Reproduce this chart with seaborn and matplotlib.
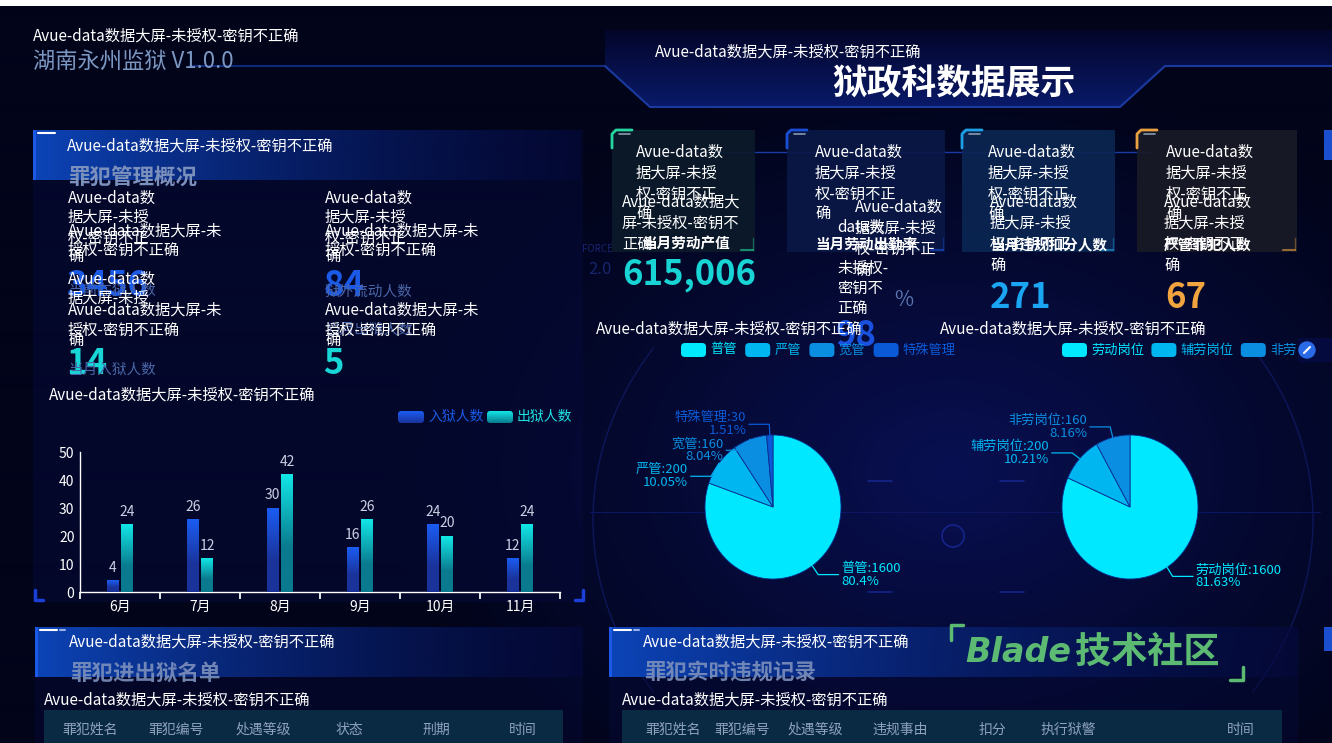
import numpy as np
import pandas as pd
import matplotlib
matplotlib.use("Agg")
import matplotlib.pyplot as plt
from matplotlib.patches import Rectangle, Polygon, FancyBboxPatch, Circle, Arc
from matplotlib.colors import to_rgb
import seaborn as sns

sns.set_theme(style="dark")
plt.rcParams['font.family'] = ['Noto Sans CJK SC', 'DejaVu Sans']
plt.rcParams['axes.unicode_minus'] = False
plt.rcParams['patch.force_edgecolor'] = False

W, H = 1332, 743

# ---- data ----
months = ["6月", "7月", "8月", "9月", "10月", "11月"]
in_prison = [4, 26, 30, 16, 24, 12]
out_prison = [24, 12, 42, 26, 20, 24]
bar_series = ["入狱人数", "出狱人数"]

manage_names = ["普管", "严管", "宽管", "特殊管理"]
manage_values = [1600, 200, 160, 30]
manage_pcts = ["80.4%", "10.05%", "8.04%", "1.51%"]

job_names = ["劳动岗位", "辅劳岗位", "非劳岗位"]
job_values = [1600, 200, 160]
job_pcts = ["81.63%", "10.21%", "8.16%"]

overview_values = ["3456", "84", "14", "5"]
overview_labels = ["当前在狱人数", "狱外流动人数", "当月入狱人数", "当月出狱人数"]

card_labels = ["当月劳动产值", "当月劳动出勤率", "当月违规扣分人数", "严管罪犯人数"]
card_values = ["615,006", "98", "271", "67"]

list_columns = ["罪犯姓名", "罪犯编号", "处遇等级", "状态", "刑期", "时间"]
record_columns = ["罪犯姓名", "罪犯编号", "处遇等级", "违规事由", "扣分", "执行狱警", "时间"]

WM = "Avue-data数据大屏-未授权-密钥不正确"

# ---- colours ----
BLUE_BAR = ("#1a5cf2", "#1a339a")
TEAL_BAR = ("#12e6e6", "#0a7a8e")
manage_colors = ["#00e8ff", "#00b6f0", "#0a8ee2", "#0a5ad8"]
job_colors = ["#00e8ff", "#00b6f0", "#0a8ee2"]


def rect_px(x0, y0, x1, y1):
    return [x0 / W, 1 - y1 / H, (x1 - x0) / W, (y1 - y0) / H]


def box(x, y, w, h, fc, alpha=1.0, z=2):
    bg.add_patch(Rectangle((x, y), w, h, fc=fc, ec='none', lw=0, alpha=alpha, zorder=z))


def grad(ax, x0, y0, x1, y1, c0, c1, a0=1.0, a1=1.0, vertical=False, zorder=1, clip=None):
    n = 128
    t = np.linspace(0, 1, n)
    c0 = np.array(to_rgb(c0)); c1 = np.array(to_rgb(c1))
    rgba = np.zeros((n, 4))
    rgba[:, :3] = c0 * (1 - t)[:, None] + c1 * t[:, None]
    rgba[:, 3] = a0 * (1 - t) + a1 * t
    img = rgba[:, None, :] if vertical else rgba[None, :, :]
    im = ax.imshow(img, extent=(x0, x1, y1, y0), aspect='auto', zorder=zorder,
                   interpolation='bilinear')
    if clip is not None:
        im.set_clip_path(clip)
    return im


fig = plt.figure(figsize=(W / 100, H / 100), dpi=100)
fig.patch.set_facecolor('#02041a')
bg = fig.add_axes([0, 0, 1, 1])
bg.axis('off')

# background glow
yy, xx = np.mgrid[0:H:4, 0:W:4]
d = np.sqrt(((xx - 950) / 560) ** 2 + ((yy - 470) / 400) ** 2)
glow = np.clip(1 - d, 0, 1) ** 1.1
base = np.array(to_rgb('#02041a')); hi = np.array(to_rgb('#081052'))
bg.imshow(base + (hi - base) * glow[..., None], extent=(0, W, H, 0), aspect='auto',
          zorder=0, interpolation='bilinear')
box(0, 0, W, 6, 'white', z=5)

# faint gauge decorations
bg.add_patch(Arc((953, 520), 720, 620, theta1=150, theta2=210, color='#101a66', lw=1, alpha=0.8, zorder=1))
bg.add_patch(Arc((953, 520), 720, 620, theta1=-30, theta2=30, color='#101a66', lw=1, alpha=0.8, zorder=1))
bg.add_patch(Circle((953, 536), 11, fill=False, ec='#16248a', lw=1.2, zorder=1))
for xs in [(868, 892), (1000, 1024)]:
    bg.plot(xs, [481, 481], color='#16248a', lw=1.2, zorder=1)
    bg.plot(xs, [592, 592], color='#16248a', lw=1.2, zorder=1)
bg.plot([590, 1320], [512, 512], color='#0c1660', lw=0.8, zorder=1)
bg.text(582, 252, "FORCE", color='#18246e', fontsize=7, zorder=1)
bg.text(588, 270, "2.0", color='#18246e', fontsize=12, va='center', zorder=1)

# header band
bg.plot([190, 605], [66, 66], color='#0e2a78', lw=1.5, zorder=2)
hdr = Polygon([(605, 66), (650, 107), (1120, 107), (1165, 66), (W, 66), (W, 30), (605, 30)],
              closed=True, fc='none', ec='none')
bg.add_patch(hdr)
grad(bg, 605, 30, W, 108, '#03062a', '#0a1a6a', vertical=True, zorder=2, clip=hdr)
bg.plot([605, 650, 1120, 1165, W], [66, 107, 107, 66, 66], color='#1a3aa0', lw=1.5, zorder=3)

bg.text(33, 36, WM, color='white', fontsize=11, va='center', zorder=6)
bg.text(33, 62, "湖南永州监狱 V1.0.0", color='#7b98c2', fontsize=16, fontweight='light',
        va='center', zorder=6)
bg.text(655, 52, WM, color='white', fontsize=11, va='center', zorder=6)
bg.text(954, 84, "狱政科数据展示", color='white', fontsize=25, fontweight='heavy',
        ha='center', va='center', zorder=6)


def panel_header(x0, y0, x1, title, wm_y):
    box(x0, y0, x1 - x0, H, '#050a36', alpha=0.45, z=1)
    grad(bg, x0, y0, x1, y0 + 50, '#0d48c0', '#060c48', 0.95, 0.35, zorder=2)
    box(x0, y0, 3, 50, '#1a5ae6', z=3)
    bg.plot([x0 + 5, x0 + 22], [y0 + 3, y0 + 3], color='white', lw=1.5, zorder=3)
    bg.plot([x0 + 25, x0 + 30], [y0 + 3, y0 + 3], color='#9ab0e0', lw=1.5, zorder=3)
    bg.text(x0 + 34, wm_y, WM, color='white', fontsize=11, va='center', zorder=6)
    bg.text(x0 + 35, y0 + 46, title, color='#7c90bc', fontsize=15.5, fontweight='bold',
            va='center', zorder=5, alpha=0.9)


# ---- panel 1 : overview + bar chart ----
box(33, 130, 550, 472, '#050a3a', alpha=0.5, z=1)
grad(bg, 33, 130, 580, 180, '#0d48c0', '#060c48', 0.95, 0.3, zorder=2)
box(33, 130, 3, 50, '#1a5ae6', z=3)
bg.plot([38, 55], [133, 133], color='white', lw=1.5, zorder=3)
bg.text(67, 146, WM, color='white', fontsize=11, va='center', zorder=6)
bg.text(68, 177, "罪犯管理概况", color='#7c90bc', fontsize=15.5, fontweight='bold',
        va='center', zorder=5)
for xs, ys in [([35, 35, 43], [590, 600, 600]), ([575, 583, 583], [600, 600, 590])]:
    bg.plot(xs, ys, color='#1a40d8', lw=2.5, zorder=3)

ov_pos = [(68, 285, 292), (325, 285, 292), (68, 363, 370), (325, 363, 330)]
ov_colors = ['#1a5ae6', '#1a5ae6', '#18d6d6', '#18d6d6']
for (x, yv, yl), v, lab, c in zip(ov_pos, overview_values, overview_labels, ov_colors):
    bg.text(x - 2, yv, v, color=c, fontsize=25, fontweight='bold', va='center', zorder=4)
    bg.text(x, yl, lab, color='#4a66a8', fontsize=10.5, va='center', zorder=5)

for x in (68, 325):
    for y, s in [(198, "Avue-data数"), (217, "据大屏-未授"), (238, "权-密钥不正"), (256, "确"),
                 (231, "Avue-data数据大屏-未"), (250, "授权-密钥不正确"),
                 (279, "Avue-data数"), (298, "据大屏-未授"),
                 (310, "Avue-data数据大屏-未"), (330, "授权-密钥不正确"), (340, "确")]:
        if x == 325 and s in ("Avue-data数", "据大屏-未授", "权-密钥不正") and y > 260:
            continue
        bg.text(x, y, s, color='white', fontsize=11, va='center', zorder=6)

bg.text(49, 395, WM, color='white', fontsize=11, va='center', zorder=6)

# legend of the bar chart
for x, (c_top, c_bot), name, tc in [(398, BLUE_BAR, bar_series[0], '#1a5ae6'),
                                     (487, TEAL_BAR, bar_series[1], '#1ee2e2')]:
    lb = FancyBboxPatch((x, 411), 26, 12, boxstyle="round,pad=0,rounding_size=3",
                        fc='none', ec='none')
    bg.add_patch(lb)
    grad(bg, x, 411, x + 26, 423, c_top, c_bot, vertical=True, zorder=4, clip=lb)
    bg.text(x + 30, 417, name, color=tc, fontsize=10, va='center', zorder=5)

ax = fig.add_axes(rect_px(80, 452, 560, 592))
df = pd.DataFrame({
    "month": months * 2,
    "series": [bar_series[0]] * len(months) + [bar_series[1]] * len(months),
    "value": in_prison + out_prison,
})
sns.barplot(data=df, x="month", y="value", hue="series", palette=[BLUE_BAR[0], TEAL_BAR[0]],
            width=0.36, gap=0.18, saturation=1, legend=False, ax=ax, zorder=3)
ax.set_facecolor('none')
ax.set_yticks([0, 10, 20, 30, 40, 50])
for cont, (c_top, c_bot) in zip(ax.containers, [BLUE_BAR, TEAL_BAR]):
    ct = np.array(to_rgb(c_top)); cb = np.array(to_rgb(c_bot))
    tt = np.clip(np.linspace(0, 1, 64) * 1.6, 0, 1)
    img = (ct * (1 - tt)[:, None] + cb * tt[:, None])[:, None, :]
    for p in cont.patches:
        x0, y0 = p.get_x(), p.get_y()
        w, h = p.get_width(), p.get_height()
        ax.imshow(img, extent=(x0, x0 + w, y0, y0 + h), aspect='auto', zorder=4)
    ax.bar_label(cont, color='#cdd0e4', fontsize=10, padding=4, zorder=6)
ax.set_aspect('auto')
ax.set_xlim(-0.5, len(months) - 0.5)
ax.set_ylim(0, 50)
ax.set_xlabel(""); ax.set_ylabel("")
ax.grid(False)
for s in ["top", "right"]:
    ax.spines[s].set_visible(False)
ax.spines["left"].set_color('white'); ax.spines["left"].set_linewidth(1)
ax.spines["bottom"].set_color('white'); ax.spines["bottom"].set_linewidth(1)
ax.set_xticks(np.arange(len(months) + 1) - 0.5)
ax.set_xticklabels([])
ax.set_xticks(np.arange(len(months)), minor=True)
ax.set_xticklabels(months, minor=True)
ax.tick_params(axis='x', which='major', length=5, color='white', direction='out', bottom=True)
ax.tick_params(axis='x', which='minor', length=0, labelsize=10, labelcolor='white', pad=6)
ax.tick_params(axis='y', length=0, labelsize=10, labelcolor='white', pad=4)

# ---- KPI cards ----
cards = [(612, 755, '#0b1a2a', '#26d6a0'), (787, 945, '#0a1846', '#1a4ed6'),
         (962, 1115, '#0a2652', '#1ea0e6'), (1137, 1297, '#191a26', '#e8a040')]
bg.plot([680, 1150], [152, 152], color='#1a3aa8', lw=1, zorder=2)
for (x0, x1, fc, ec) in cards:
    box(x0, 130, x1 - x0, 122, fc, alpha=0.92, z=2)
    bg.plot([x0, x0, x0 + 4, x0 + 20], [148, 134, 130, 130], color=ec, lw=2, zorder=3)
    bg.plot([x0 + 7, x0 + 18], [134, 134], color='#8a9ab0', lw=1.2, zorder=3)
    bg.plot([x1 - 14, x1 - 2], [250, 250], color=ec, lw=1.5, alpha=0.6, zorder=3)
    bg.plot([x1 - 2, x1 - 2], [238, 250], color=ec, lw=1, alpha=0.4, zorder=3)

card_text_x = [636, 815, 988, 1166]
for x in card_text_x:
    for y, s in [(152, "Avue-data数"), (173, "据大屏-未授"), (194, "权-密钥不正"), (213, "确")]:
        bg.text(x, y, s, color='white', fontsize=11, va='center', zorder=6)
for y, s in [(202, "Avue-data数据大"), (223, "屏-未授权-密钥不"), (244, "正确")]:
    bg.text(622, y, s, color='white', fontsize=11, va='center', zorder=6)
for x in (990, 1164):
    for y, s in [(202, "Avue-data数"), (223, "据大屏-未授"), (244, "权-密钥不正"), (265, "确")]:
        bg.text(x, y, s, color='white', fontsize=11, va='center', zorder=6)
for y, s in [(207, "Avue-data数"), (228, "据大屏-未授"), (249, "权-密钥不正"), (270, "确")]:
    bg.text(855, y, s, color='white', fontsize=11, va='center', zorder=6)
for y, s in [(227, "data数"), (268, "未授权-"), (288, "密钥不"), (308, "正确")]:
    bg.text(837, y, s, color='white', fontsize=11, va='center', zorder=6)

card_label_x = [642, 815, 990, 1164]
for x, lab in zip(card_label_x, card_labels):
    bg.text(x, 244, lab, color='white', fontsize=10.5, fontweight='bold', va='center', zorder=6)

val_pos = [(622, 275, '#18d4d4'), (836, 335, '#1a52e0'), (990, 297, '#1aa6f2'), (1165, 297, '#f2a43e')]
for (x, y, c), v in zip(val_pos, card_values):
    bg.text(x, y, v, color=c, fontsize=25, fontweight='bold', va='center', zorder=5)
bg.text(894, 300, "%", color='#5a74b0', fontsize=15, va='center', zorder=5)

# ---- pies ----
bg.text(596, 329, WM, color='white', fontsize=11, va='center', zorder=6)
bg.text(940, 329, WM, color='white', fontsize=11, va='center', zorder=6)


def pie_legend(x, names, colors, ypos=350):
    for n, c in zip(names, colors):
        bg.add_patch(FancyBboxPatch((x, ypos - 7), 25, 14, boxstyle="round,pad=0,rounding_size=4",
                                    fc=c, ec='none', zorder=4))
        bg.text(x + 29, ypos, n, color=c, fontsize=9.5, va='center', zorder=5)
        x += 25 + 4 + 12.6 * len(n) + 10


pie_legend(681, manage_names, manage_colors)
pie_legend(1062, job_names, job_colors)
box(1298, 338, 34, 24, '#050a3e', z=6)
bg.add_patch(Circle((1307, 350), 8, color='#2a6ae6', zorder=7))
bg.plot([1304, 1310], [353, 347], color='white', lw=1.5, zorder=8)


def draw_pie(cx, names, values, pcts, colors):
    axp = fig.add_axes(rect_px(cx - 173, 380, cx + 173, 634))
    axp.set_facecolor('none')
    wedges, _ = axp.pie(values, colors=colors, startangle=90, counterclock=False, radius=1,
                        wedgeprops=dict(edgecolor='#0a3090', linewidth=0.6))
    axp.set_aspect('auto')
    sx, sy = 173 / 68, 127 / 72
    axp.set_xlim(-sx, sx)
    axp.set_ylim(-sy, sy)
    axp.axis('off')
    items = []
    for w, n, v, p, c in zip(wedges, names, values, pcts, colors):
        mid = np.deg2rad((w.theta1 + w.theta2) / 2)
        ex, ey = np.cos(mid), np.sin(mid)
        items.append([ex, ey, 1.15 * ex, 1.15 * ey, n, v, p, c])
    gap = 26 / 72
    for side in (1, -1):
        grp = sorted([it for it in items if np.sign(it[0]) == side], key=lambda it: -it[3])
        prev = None
        for it in grp:
            ly = it[3]
            if prev is not None and ly > prev - gap:
                ly = prev - gap
            it.append(ly)
            prev = ly
    for ex, ey, bx, by, n, v, p, c, ly in items:
        side = 1 if ex > 0 else -1
        hx = bx + side * 0.3
        axp.plot([ex, bx, hx], [ey, ly, ly], color=c, lw=0.9)
        axp.text(hx + side * 0.04, ly, f"{n}:{v}\n{p}", color=c, fontsize=9.5,
                 ha='left' if side > 0 else 'right', va='center', linespacing=1.0)


draw_pie(773, manage_names, manage_values, manage_pcts, manage_colors)
draw_pie(1130, job_names, job_values, job_pcts, job_colors)

# ---- bottom panels ----
panel_header(35, 627, 583, "罪犯进出狱名单", 642)
panel_header(609, 627, 1298, "罪犯实时违规记录", 642)
bg.text(44, 700, WM, color='white', fontsize=11, va='center', zorder=6)
bg.text(622, 700, WM, color='white', fontsize=11, va='center', zorder=6)
box(44, 710, 519, 40, '#0a2a44', z=3)
box(622, 710, 660, 40, '#0a2a44', z=3)
for i, col in enumerate(list_columns):
    bg.text(90 + 86.6 * i, 730, col, color='#8ea2bc', fontsize=10, ha='center', va='center', zorder=5)
rec_x = [673, 742, 815, 900, 992, 1068, 1241]
for x, col in zip(rec_x, record_columns):
    bg.text(x, 730, col, color='#8ea2bc', fontsize=10, ha='center', va='center', zorder=5)

# Blade logo
bg.text(965, 652, "Blade", color='#5cba72', fontsize=24, fontweight='bold', fontstyle='oblique',
        family='DejaVu Sans', va='center', zorder=7)
bg.text(1075, 652, "技术社区", color='#5cba72', fontsize=26, fontweight='heavy',
        va='center', zorder=7)
bg.plot([951, 951, 963], [640, 625, 625], color='#5cba72', lw=2.5, zorder=7)
bg.plot([1230, 1243, 1243], [680, 680, 667], color='#5cba72', lw=2.5, zorder=7)

# right edge (cut off panels)
box(1324, 130, 8, 30, '#1a50d0', z=3)
box(1324, 627, 8, 24, '#1a50d0', z=3)

bg.set_xlim(0, W)
bg.set_ylim(H, 0)
bg.set_aspect('auto')

fig.savefig("out.png", dpi=100, facecolor=fig.get_facecolor())
